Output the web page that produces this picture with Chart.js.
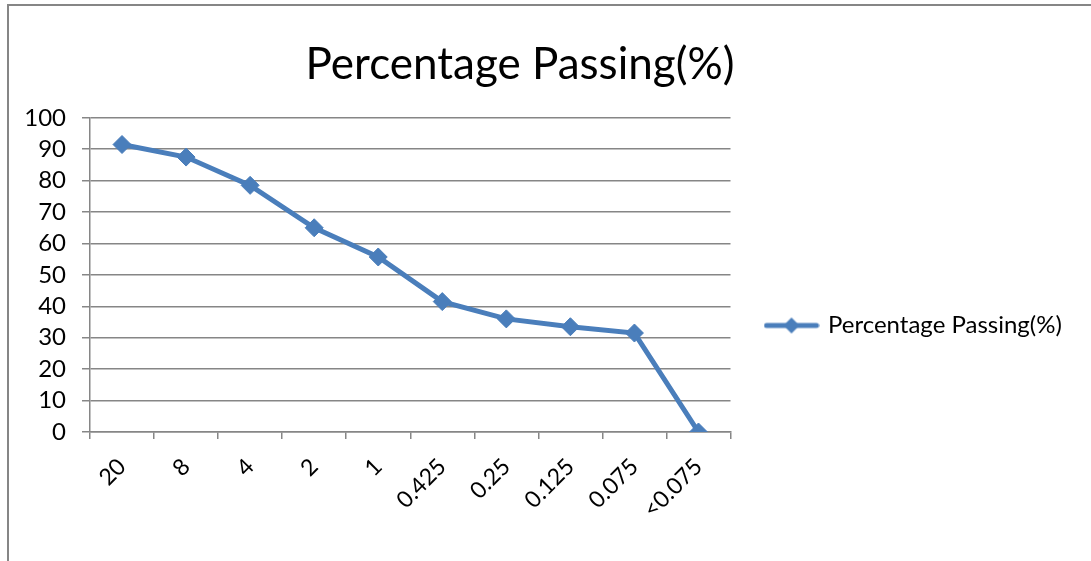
<!DOCTYPE html>
<html>
<head>
<meta charset="utf-8">
<script src="https://cdn.jsdelivr.net/npm/chart.js@4"></script>
<style>
  html, body { margin: 0; padding: 0; background: #fff; }
  #wrap { width: 1091px; height: 561px; }
</style>
</head>
<body>
<div id="wrap"><canvas id="sieveChart" width="1091" height="561"></canvas></div>
<script>
// sieve sizes (mm) and cumulative passing
const sieveSizes = ["20", "8", "4", "2", "1", "0.425", "0.25", "0.125", "0.075", "<0.075"];
const percentPassing = [91.5, 87.5, 78.5, 65, 55.7, 41.5, 36, 33.5, 31.5, 0];
const yTicks = [0, 10, 20, 30, 40, 50, 60, 70, 80, 90, 100];

const blue = "#4A7EBB";
const gridGray = "#868686";
const fontFam = "Lato, 'Open Sans', sans-serif";

// legend swatch: line with diamond on it
function legendSwatch() {
    const c = document.createElement("canvas");
    c.width = 56; c.height = 20;
    const g = c.getContext("2d");
    g.strokeStyle = blue; g.lineWidth = 5; g.lineCap = "round";
    g.beginPath(); g.moveTo(3, 10); g.lineTo(53, 10); g.stroke();
    g.fillStyle = blue;
    g.beginPath(); g.moveTo(28, 2); g.lineTo(36, 10); g.lineTo(28, 18); g.lineTo(20, 10); g.closePath(); g.fill();
    return c;
}
const swatch = legendSwatch();

const frame = {
    id: "frame",
    beforeDraw(chart) {
        const ctx = chart.ctx;
        ctx.save();
        ctx.fillStyle = "#fff";
        ctx.fillRect(0, 0, chart.width, chart.height);
        ctx.strokeStyle = gridGray;
        ctx.lineWidth = 2;
        ctx.strokeRect(8, 5, 1200, 700);
        ctx.restore();
    },
    afterLayout(chart) {
        // nudge title and legend to where the original sits
        const tb = chart.titleBlock;
        tb.left = 0; tb.right = 1040; tb.width = 1040;
        const lg = chart.legend;
        lg.left = 757; lg.right = 1091; lg.width = 334;
        lg.top += 45; lg.bottom += 45;
    }
};

new Chart(document.getElementById("sieveChart").getContext("2d"), {
    type: "line",
    data: {
        labels: sieveSizes,
        datasets: [{
            label: "Percentage Passing(%)",
            data: percentPassing,
            borderColor: blue,
            backgroundColor: blue,
            borderWidth: 5,
            tension: 0,
            pointStyle: "rectRot",
            pointRadius: 9,
            pointBorderWidth: 1,
            pointBackgroundColor: blue,
            pointBorderColor: blue
        }]
    },
    options: {
        responsive: false,
        animation: false,
        layout: { padding: { left: 0, right: 117, top: 0, bottom: 0 } },
        plugins: {
            title: {
                display: true,
                text: "Percentage Passing(%)",
                color: "#000",
                font: { family: fontFam, size: 44, weight: "normal" },
                padding: { top: 38, bottom: 27 }
            },
            legend: {
                position: "right",
                labels: {
                    color: "#000",
                    font: { family: fontFam, size: 24 },
                    usePointStyle: true,
                    pointStyleWidth: 49,
                    padding: 10,
                    generateLabels(chart) {
                        return [{ text: chart.data.datasets[0].label, pointStyle: swatch, fillStyle: blue, strokeStyle: blue, lineWidth: 0, datasetIndex: 0, fontColor: "#000" }];
                    }
                }
            },
            tooltip: { enabled: false }
        },
        scales: {
            x: {
                offset: true,
                grid: { offset: true, drawOnChartArea: false, drawTicks: true, tickLength: 7, color: gridGray, lineWidth: 1.5 },
                border: { display: true, color: gridGray, width: 1.5 },
                ticks: { color: "#000", font: { family: fontFam, size: 23 }, maxRotation: 45, minRotation: 45, padding: 14, autoSkip: false },
                afterFit(scale) { scale.height = 129; }
            },
            y: {
                min: 0, max: 100,
                afterBuildTicks(scale) { scale.ticks = yTicks.map(v => ({ value: v })); },
                grid: { color: gridGray, lineWidth: 1.5, tickLength: 8 },
                border: { display: true, color: gridGray, width: 1.5 },
                ticks: { color: "#000", font: { family: fontFam, size: 24 }, padding: 16, autoSkip: false },
                afterFit(scale) { scale.width = 90; }
            }
        }
    },
    plugins: [frame]
});
</script>
</body>
</html>
